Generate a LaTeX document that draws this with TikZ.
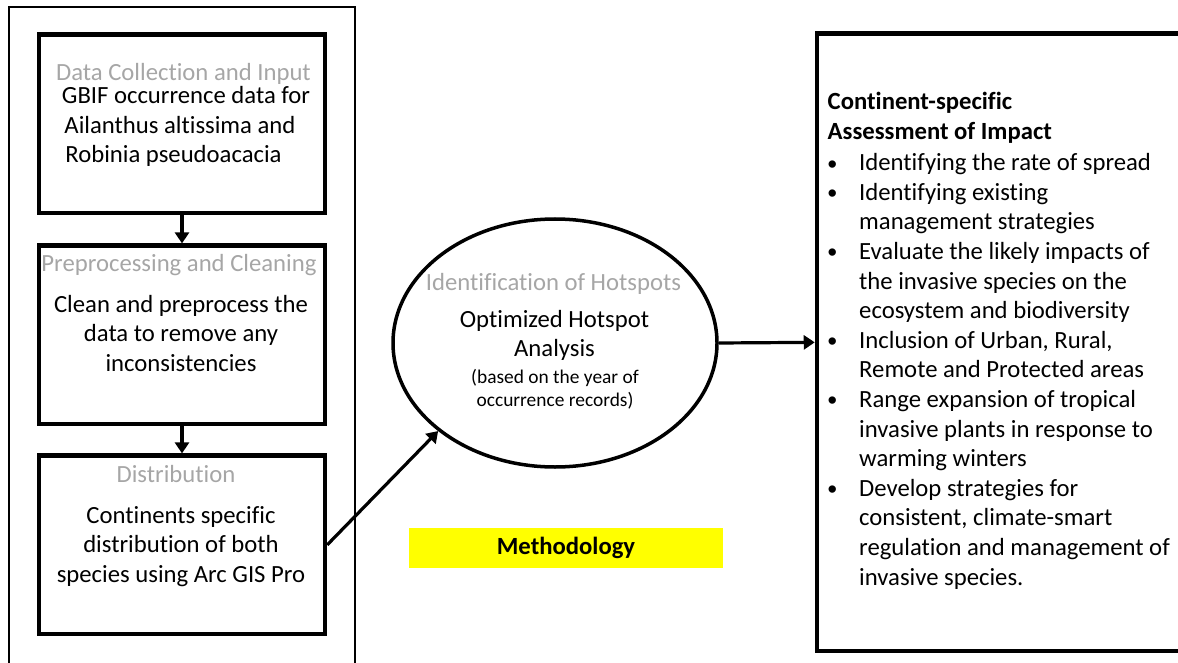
\documentclass[tikz,border=0pt]{standalone}
\usepackage{fontspec}
\setmainfont{Carlito}[Ligatures={NoCommon,NoContextual}]
\newfontfamily\bulletfont{Liberation Sans}
\usetikzlibrary{shapes.geometric,arrows.meta}
\definecolor{headgrey}{RGB}{166,166,166}
\definecolor{labelyellow}{RGB}{255,255,0}
% stack of centred lines whose first baseline is the node's base
\newcommand{\stacklines}[1]{\begin{tabular}[t]{@{}c@{}}#1\end{tabular}}
\newcommand{\bul}{\makebox[33pt][l]{\hspace{1.3pt}\raisebox{-2.4pt}{\bulletfont\fontsize{27}{27}\selectfont •}}}
\newcommand{\cont}{\makebox[33pt][l]{}}
\begin{document}
\begin{tikzpicture}[x=1pt,y=-1pt,
  stepbox/.style={draw, rectangle, line width=4.5pt, inner sep=0pt,
    minimum width=286pt, minimum height=178.4pt},
  groupframe/.style={draw, rectangle, line width=1.3pt, inner sep=0pt},
  headtext/.style={anchor=base, inner sep=0pt, text=headgrey,
    font=\fontsize{24.7}{29.6}\selectfont},
  bodytext/.style={anchor=base, inner sep=0pt,
    font=\fontsize{24.7}{29.6}\selectfont},
  smalltext/.style={anchor=base, inner sep=0pt,
    font=\fontsize{19.4}{23.2}\selectfont},
  flow/.style={line width=3.2pt, -{Triangle[length=11pt,width=14pt]}},
]
\useasboundingbox (0,0) rectangle (1178,663);
\clip (0,0) rectangle (1178,663);

% frame around the three data steps
\node[groupframe, minimum width=346pt, minimum height=693pt] (grp) at (182,353.5) {};

% data steps
\node[stepbox] (b1) at (182,123.75) {};
\node[stepbox] (b2) at (182,334.85) {};
\node[stepbox] (b3) at (182,544.85) {};

\node[headtext] (b1h) at (183.5,81) {Data Collection and Input};
\node[bodytext] (b1t) at (180,103.5) {\stacklines{\hspace*{12pt}GBIF occurrence data for\\
  Ailanthus altissima and\\ Robinia pseudoacacia\hspace*{13pt}}};

\node[headtext] (b2h) at (179,272) {Preprocessing and Cleaning};
\node[bodytext] (b2t) at (181,312) {\stacklines{Clean and preprocess the\\
  data to remove any\\ inconsistencies}};

\node[headtext] (b3h) at (176,482) {Distribution};
\node[bodytext] (b3t) at (181,523) {\stacklines{Continents specific\\
  distribution of both\\ species using Arc GIS Pro}};

% hotspot analysis
\node[draw, ellipse, line width=3.5pt, inner sep=0pt,
  minimum width=324pt, minimum height=248pt] (hot) at (555,343) {};
\node[headtext] (hoth) at (553.5,290) {Identification of Hotspots};
\node[bodytext] (hott) at (554.5,327) {\stacklines{Optimized Hotspot\\ Analysis}};
\node[smalltext] (hots) at (555,383) {\stacklines{(based on the year of\\
  occurrence records)}};

% caption label
\node[fill=labelyellow, inner sep=0pt, minimum width=314pt, minimum height=40pt,
  font=\fontsize{24.7}{29.6}\selectfont\bfseries] (meth) at (566,548) {Methodology};

% impact assessment
\node[draw, rectangle, line width=4.5pt, inner sep=0pt,
  minimum width=373pt, minimum height=617.3pt] (imp) at (1003.5,342.35) {};
\node[bodytext, anchor=base west] (impt) at (826,110) {%
  \begin{tabular}[t]{@{}l@{}l@{}}
  \multicolumn{2}{@{\hspace{1.5pt}}l@{}}{\bfseries Continent-specific}\\
  \multicolumn{2}{@{\hspace{1.5pt}}l@{}}{\bfseries Assessment of Impact}\\[1.5pt]
  \bul & Identifying the rate of spread\\
  \bul & Identifying existing\\
  \cont & management strategies\\
  \bul & Evaluate the likely impacts of\\
  \cont & the invasive species on the\\
  \cont & ecosystem and biodiversity\\
  \bul & Inclusion of Urban, Rural,\\
  \cont & Remote and Protected areas\\
  \bul & Range expansion of tropical\\
  \cont & invasive plants in response to\\
  \cont & warming winters\\
  \bul & Develop strategies for\\
  \cont & consistent, climate-smart\\
  \cont & regulation and management of\\
  \cont & invasive species.
  \end{tabular}};

% connectors
\draw[flow] (b1.south) -- (b2.north);
\draw[flow] (b2.south) -- (b3.north);
\draw[flow] (b3.east) -- (hot.217);
\draw[flow] (hot.east) -- (imp.west);
\end{tikzpicture}
\end{document}
